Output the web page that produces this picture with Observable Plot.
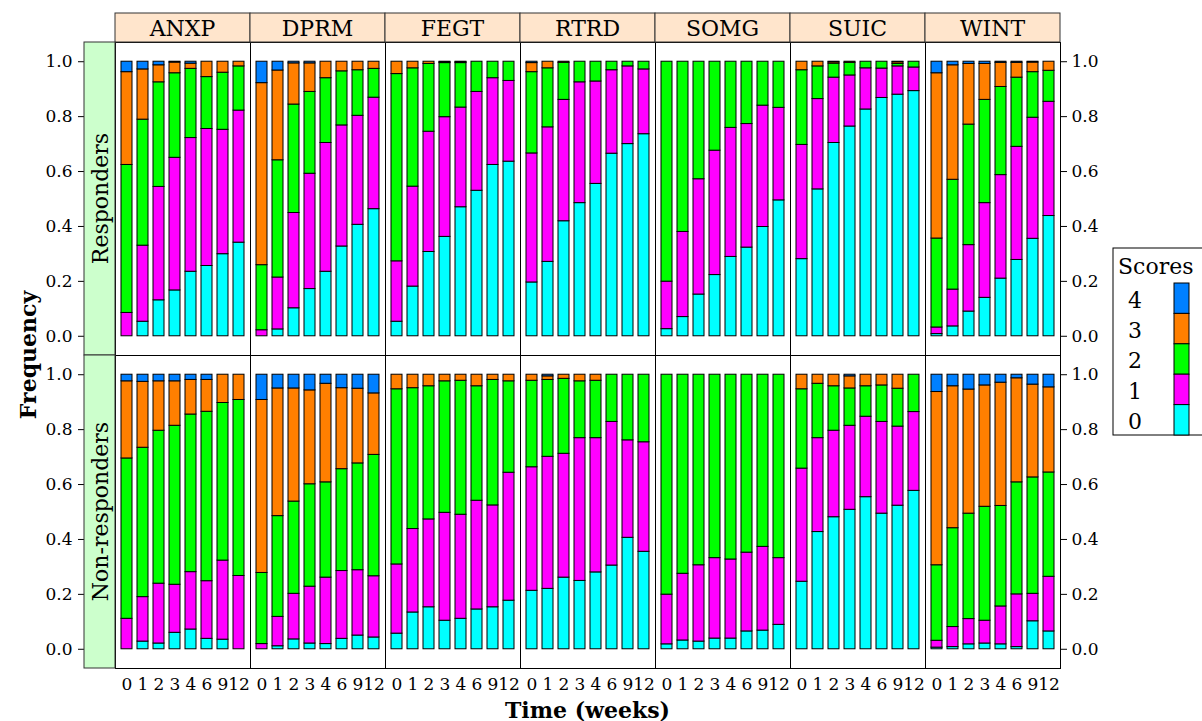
<!DOCTYPE html>
<html><head><meta charset="utf-8">
<script src="https://cdn.jsdelivr.net/npm/d3@7"></script>
<script src="https://cdn.jsdelivr.net/npm/@observablehq/plot@0.6"></script>
<style>body{margin:0;background:#fff} svg{display:block}</style>
</head><body><div id="chart"></div>
<script>
// ---------- data ----------
const symptoms = ["ANXP","DPRM","FEGT","RTRD","SOMG","SUIC","WINT"];
const groups = ["Responders","Non-responders"];
const weeks = ["0","1","2","3","4","6","9","12"];
const scores = ["0","1","2","3","4"];
const scoreColors = ["#00FFFF","#FF00FF","#00FF00","#FF7F00","#0080FF"];
const yTicks = [0,0.2,0.4,0.6,0.8,1.0];

// cumulative frequency at the top of scores 0,1,2,3 (score 4 fills up to 1), per week
const anxpResp = [
  [0,0.053,0.131,0.167,0.235,0.256,0.299,0.341],
  [0.085,0.330,0.544,0.650,0.722,0.755,0.752,0.822],
  [0.624,0.789,0.925,0.958,0.974,0.944,0.960,0.983],
  [0.962,0.972,0.987,0.997,0.993,1,1,1]];
const anxpNon = [
  [0,0.028,0.021,0.060,0.072,0.038,0.035,0],
  [0.111,0.190,0.239,0.235,0.281,0.248,0.323,0.267],
  [0.695,0.734,0.796,0.814,0.855,0.865,0.897,0.908],
  [0.976,0.974,0.976,0.976,0.981,0.981,1,1]];
const dprmResp = [
  [0,0.025,0.102,0.172,0.235,0.327,0.406,0.463],
  [0.022,0.214,0.449,0.592,0.704,0.768,0.803,0.869],
  [0.259,0.641,0.844,0.890,0.940,0.965,0.969,0.974],
  [0.922,0.968,0.994,0.994,1,1,1,1]];
const dprmNon = [
  [0,0.011,0.036,0.021,0.019,0.038,0.050,0.043],
  [0.019,0.118,0.202,0.228,0.261,0.285,0.288,0.266],
  [0.278,0.485,0.538,0.601,0.608,0.656,0.677,0.708],
  [0.908,0.950,0.950,0.943,0.967,0.951,0.949,0.932]];
const fegtResp = [
  [0.053,0.181,0.307,0.362,0.470,0.530,0.624,0.636],
  [0.273,0.545,0.745,0.798,0.833,0.890,0.940,0.930],
  [0.955,0.976,0.992,0.995,0.995,1,1,1],
  [1,1,1,0.998,0.998,1,1,1]];
const fegtNon = [
  [0.057,0.134,0.153,0.104,0.111,0.145,0.153,0.177],
  [0.309,0.438,0.473,0.497,0.490,0.541,0.524,0.643],
  [0.947,0.951,0.958,0.976,0.978,0.958,0.981,0.976],
  [1,1,1,1,1,1,1,1]];
const rtrdResp = [
  [0.196,0.271,0.419,0.485,0.555,0.665,0.700,0.736],
  [0.666,0.761,0.861,0.925,0.928,0.969,0.983,0.972],
  [0.962,0.976,0.996,1,1,1,1,1],
  [0.995,1,1,1,1,1,1,1]];
const rtrdNon = [
  [0.213,0.220,0.261,0.249,0.280,0.305,0.406,0.355],
  [0.663,0.701,0.712,0.769,0.769,0.828,0.761,0.754],
  [0.978,0.981,0.985,0.976,0.978,1,1,1],
  [1,0.994,1,1,1,1,1,1]];
const somgResp = [
  [0.026,0.070,0.152,0.223,0.289,0.323,0.398,0.495],
  [0.199,0.380,0.572,0.676,0.759,0.773,0.840,0.832],
  [1,1,1,1,1,1,1,1],
  [1,1,1,1,1,1,1,1]];
const somgNon = [
  [0.018,0.032,0.028,0.039,0.039,0.065,0.068,0.089],
  [0.199,0.275,0.306,0.332,0.327,0.352,0.373,0.332],
  [1,1,1,1,1,1,1,1],
  [1,1,1,1,1,1,1,1]];
const suicResp = [
  [0.281,0.535,0.704,0.764,0.826,0.868,0.880,0.893],
  [0.697,0.864,0.942,0.950,0.976,0.975,0.983,0.979],
  [0.969,0.983,0.993,0.996,1,1,0.992,1],
  [1,1,0.998,1,1,1,0.998,1]];
const suicNon = [
  [0.246,0.427,0.481,0.508,0.554,0.494,0.523,0.577],
  [0.658,0.769,0.796,0.814,0.847,0.828,0.811,0.864],
  [0.947,0.967,0.958,0.950,0.958,0.961,0.949,1],
  [1,1,1,0.994,1,1,1,1]];
const wintResp = [
  [0.008,0.036,0.090,0.140,0.210,0.278,0.355,0.438],
  [0.032,0.170,0.332,0.485,0.587,0.690,0.796,0.854],
  [0.356,0.570,0.771,0.861,0.908,0.942,0.962,0.967],
  [0.958,0.987,0.992,0.992,0.996,0.996,0.997,1]];
const wintNon = [
  [0.006,0.008,0.018,0.021,0.018,0.008,0.102,0.065],
  [0.031,0.081,0.110,0.104,0.156,0.200,0.202,0.264],
  [0.306,0.441,0.494,0.519,0.522,0.608,0.626,0.644],
  [0.937,0.958,0.946,0.961,0.971,0.987,0.964,0.954]];

const panels = [
  ["ANXP", anxpResp, anxpNon], ["DPRM", dprmResp, dprmNon], ["FEGT", fegtResp, fegtNon],
  ["RTRD", rtrdResp, rtrdNon], ["SOMG", somgResp, somgNon], ["SUIC", suicResp, suicNon],
  ["WINT", wintResp, wintNon]];

// ---------- table ----------
const rows = [];
for (const [sym, resp, non] of panels) {
  for (const [grp, cum] of [["Responders", resp], ["Non-responders", non]]) {
    weeks.forEach((wk, i) => {
      const bounds = [0, cum[0][i], cum[1][i], cum[2][i], cum[3][i], 1];
      scores.forEach((sc, k) => rows.push({symptom: sym, group: grp, week: wk, score: sc, lo: bounds[k], hi: bounds[k + 1]}));
    });
  }
}

// ---------- plot ----------
const FONT = "DejaVu Serif";
const M = {left: 115, right: 142, top: 42, bottom: 53};
const chart = Plot.plot({
  width: 1202, height: 721,
  marginLeft: M.left, marginRight: M.right, marginTop: M.top, marginBottom: M.bottom,
  style: {fontFamily: FONT, fontSize: "17px", background: "white", color: "black", overflow: "visible"},
  fx: {domain: symptoms, padding: 0, axis: null},
  fy: {domain: groups, padding: 0, axis: null},
  x: {domain: weeks, paddingInner: 0.29, paddingOuter: 0.245, label: null},
  y: {domain: [-0.07, 1.07], label: null},
  color: {domain: scores, range: scoreColors},
  marks: [
    Plot.barY(rows, {fx: "symptom", fy: "group", x: "week", y1: "lo", y2: "hi", fill: "score", stroke: "black", strokeWidth: 1}),
    Plot.axisY({anchor: "left", ticks: yTicks, tickFormat: d3.format(".1f"), tickSize: 37, tickPadding: 6, label: null, fontSize: 17}),
    Plot.axisY({anchor: "right", ticks: yTicks, tickFormat: d3.format(".1f"), tickSize: 6, tickPadding: 5, label: null, fontSize: 17}),
    Plot.axisX({anchor: "bottom", tickSize: 0, tickPadding: 9, label: null, fontSize: 17}),
    Plot.frame({stroke: "black", strokeWidth: 1})
  ]
});
document.getElementById("chart").append(chart);

// ---------- strips, titles, legend ----------
const svg = d3.select(chart);
const fxS = chart.scale("fx"), fyS = chart.scale("fy");
const colorS = chart.scale("color");
const deco = svg.append("g").attr("font-family", FONT).attr("text-anchor", "start");

symptoms.forEach(s => {
  const x0 = fxS.apply(s), bw = fxS.bandwidth;
  deco.append("rect").attr("x", x0).attr("y", 13).attr("width", bw).attr("height", M.top - 13)
    .attr("fill", "#ffe5cc").attr("stroke", "#333").attr("stroke-width", 1);
  deco.append("text").attr("x", x0 + bw / 2).attr("y", 28).attr("text-anchor", "middle")
    .attr("dominant-baseline", "central").attr("font-size", 22).attr("fill", "black").text(s);
});
groups.forEach(g => {
  const y0 = fyS.apply(g), bh = fyS.bandwidth;
  deco.append("rect").attr("x", 84).attr("y", y0).attr("width", M.left - 84).attr("height", bh)
    .attr("fill", "#ccffcc").attr("stroke", "#333").attr("stroke-width", 1);
  deco.append("text").attr("transform", `translate(100,${y0 + bh / 2}) rotate(-90)`)
    .attr("text-anchor", "middle").attr("dominant-baseline", "central")
    .attr("font-size", 22).attr("fill", "black").text(g);
});
// axis titles
deco.append("text").attr("transform", "translate(28,355) rotate(-90)").attr("text-anchor", "middle")
  .attr("dominant-baseline", "central").attr("font-size", 22).attr("font-weight", "bold").text("Frequency");
deco.append("text").attr("x", (M.left + 1202 - M.right) / 2).attr("y", 710).attr("text-anchor", "middle")
  .attr("dominant-baseline", "central").attr("font-size", 22).attr("font-weight", "bold").text("Time (weeks)");

// legend
const lg = deco.append("g");
lg.append("rect").attr("x", 1113).attr("y", 248).attr("width", 100).attr("height", 187)
  .attr("fill", "white").attr("stroke", "black").attr("stroke-width", 1);
lg.append("text").attr("x", 1118).attr("y", 266).attr("text-anchor", "start").attr("dominant-baseline", "central")
  .attr("font-size", 22).text("Scores");
const legendOrder = scores.slice().reverse();
legendOrder.forEach((sc, i) => {
  const yTop = 283 + i * 30.4;
  lg.append("rect").attr("x", 1174).attr("y", yTop).attr("width", 15).attr("height", 30.4)
    .attr("fill", colorS.apply(sc)).attr("stroke", "black").attr("stroke-width", 1);
  lg.append("text").attr("x", 1135).attr("y", yTop + 17).attr("text-anchor", "middle")
    .attr("dominant-baseline", "central").attr("font-size", 22).text(sc);
});
</script></body></html>
